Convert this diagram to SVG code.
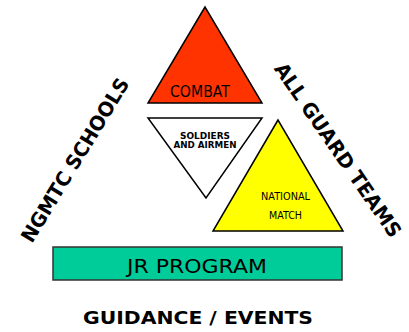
<svg xmlns="http://www.w3.org/2000/svg" width="409" height="332" viewBox="0 0 409 332">
<style>
.tri{stroke:#000;stroke-width:1.5;stroke-linejoin:miter}
.t{font-family:"DejaVu Sans",Verdana,sans-serif;fill:#000;text-anchor:middle}
.b{font-weight:bold}
</style>
<rect width="409" height="332" fill="#fff"/>
<g id="combat">
<polygon class="tri" points="205,7 148,103 262,103" fill="#FF3300"/>
<text class="t" x="200" y="97" font-size="15" textLength="60" lengthAdjust="spacingAndGlyphs">COMBAT</text>
</g>
<g id="soldiers">
<polygon class="tri" points="148,118 262,118 206,198" fill="#fff"/>
<text class="t b" x="205" y="138.5" font-size="9.5" textLength="50" lengthAdjust="spacingAndGlyphs">SOLDIERS</text>
<text class="t b" x="205" y="148" font-size="9.5" textLength="63" lengthAdjust="spacingAndGlyphs">AND AIRMEN</text>
</g>
<g id="national">
<polygon class="tri" points="278,120 213,231 343,231" fill="#FFFF00"/>
<text class="t" x="285.5" y="200" font-size="11" textLength="49" lengthAdjust="spacingAndGlyphs">NATIONAL</text>
<text class="t" x="285.5" y="219" font-size="11" textLength="33" lengthAdjust="spacingAndGlyphs">MATCH</text>
</g>
<g id="jr">
<rect x="53" y="247" width="289" height="33" fill="#00CC99" stroke="#333" stroke-width="1.5"/>
<text class="t" x="197" y="273" font-size="20" textLength="140" lengthAdjust="spacingAndGlyphs">JR PROGRAM</text>
</g>
<g id="ngmtc">
<text class="t b" transform="translate(75,160) rotate(-58.6)" dominant-baseline="central" font-size="20" textLength="188" lengthAdjust="spacingAndGlyphs">NGMTC SCHOOLS</text>
</g>
<g id="allguard">
<text class="t b" transform="translate(338,150) rotate(55.4)" dominant-baseline="central" font-size="20" textLength="207" lengthAdjust="spacingAndGlyphs">ALL GUARD TEAMS</text>
</g>
<g id="guidance">
<text class="t b" x="198" y="324" font-size="18" textLength="230" lengthAdjust="spacingAndGlyphs">GUIDANCE / EVENTS</text>
</g>
<g id="connectors"/>
</svg>
